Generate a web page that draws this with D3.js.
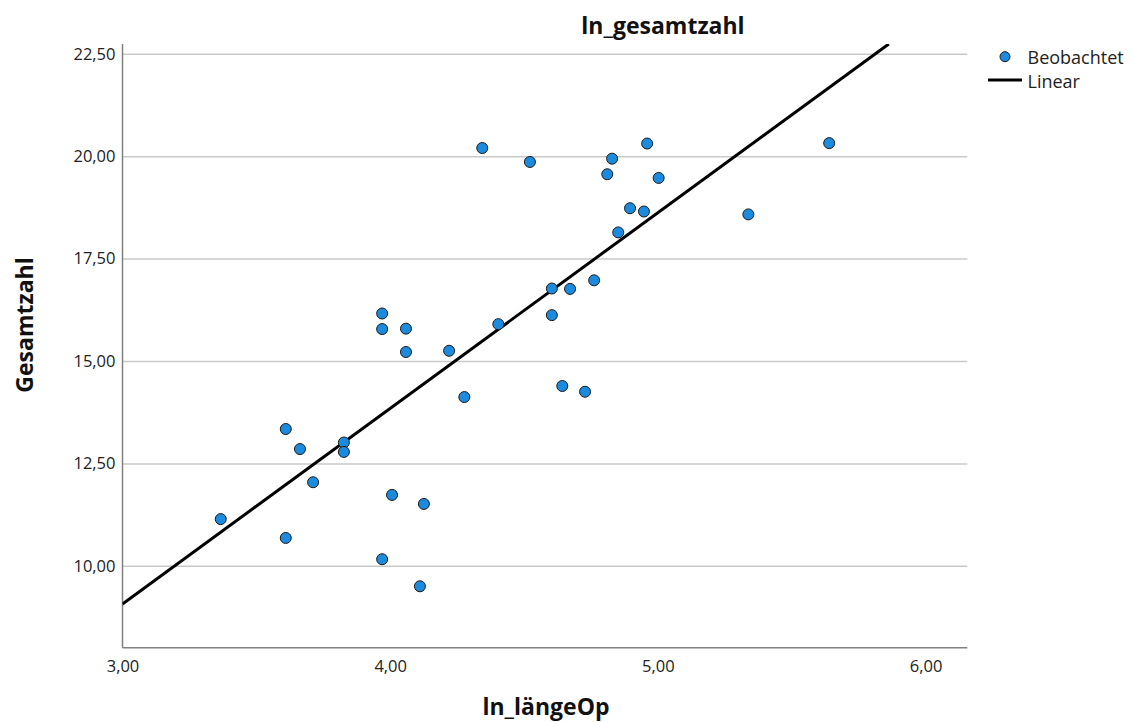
<!DOCTYPE html>
<html>
<head>
<meta charset="utf-8">
<script src="https://cdn.jsdelivr.net/npm/d3@7"></script>
<style>
  html, body { margin: 0; padding: 0; background: #fff; }
  svg { display: block; }
  text { font-family: "Open Sans", "Noto Sans", sans-serif; }
</style>
</head>
<body>
<script>
// Observed values: ln_längeOp (x) and Gesamtzahl (y)
const lnLaengeOp = [
  3.367, 3.610, 3.663, 3.610, 3.712, 3.827, 3.827, 3.970, 3.970, 4.007,
  3.970, 4.059, 4.059, 4.126, 4.111, 4.220, 4.277, 4.344, 4.404, 4.522,
  4.604, 4.604, 4.643, 4.672, 4.728, 4.762, 4.811, 4.829, 4.852, 4.896,
  4.948, 4.960, 5.003, 5.338, 5.640
];
const gesamtzahl = [
  11.14, 13.34, 12.85, 10.68, 12.04, 13.01, 12.78, 16.16, 15.78, 11.73,
  10.16, 15.79, 15.22, 11.51, 9.50, 15.25, 14.12, 20.20, 15.90, 19.86,
  16.77, 16.12, 14.39, 16.76, 14.25, 16.97, 19.56, 19.94, 18.14, 18.73,
  18.65, 20.31, 19.47, 18.58, 20.32
];
// Linear fit: intercept, slope
const linearFit = [-5.26, 4.776];
const xTicks = [3, 4, 5, 6];
const yTicks = [10, 12.5, 15, 17.5, 20, 22.5];
const legendLabels = ["Beobachtet", "Linear"];

const W = 1133, H = 722;
const plot = { left: 122.5, right: 967.3, top: 44, bottom: 647.7 };

const fmt = v => d3.format(".2f")(v).replace(".", ",");

const x = d3.scaleLinear().domain([3, 6.156]).range([plot.left, plot.right]);
const y = d3.scaleLinear().domain([8.0, 22.74]).range([plot.bottom, plot.top]);

const svg = d3.select("body").append("svg").attr("width", W).attr("height", H);

svg.append("defs").append("clipPath").attr("id", "plot-clip")
  .append("rect")
  .attr("x", plot.left).attr("y", plot.top)
  .attr("width", plot.right - plot.left).attr("height", plot.bottom - plot.top);

// Horizontal grid lines
svg.append("g")
  .attr("transform", `translate(${plot.left},0)`)
  .call(d3.axisLeft(y).tickValues(yTicks).tickSize(-(plot.right - plot.left)).tickFormat(""))
  .call(g => g.select(".domain").remove())
  .call(g => g.selectAll(".tick line").attr("stroke", "#c9c9c9").attr("stroke-width", 1.5));

// Y axis
const yAxis = svg.append("g")
  .attr("transform", `translate(${plot.left},0)`)
  .call(d3.axisLeft(y).tickValues(yTicks).tickSize(0).tickPadding(7).tickFormat(fmt));
yAxis.select(".domain").remove();
yAxis.selectAll("text").attr("font-size", 16.5).attr("fill", "#222")
  .attr("font-family", "'Open Sans', sans-serif");

// X axis
const xAxis = svg.append("g")
  .attr("transform", `translate(0,${plot.bottom})`)
  .call(d3.axisBottom(x).tickValues(xTicks).tickSize(0).tickFormat(fmt));
xAxis.select(".domain").remove();
xAxis.selectAll("text").attr("font-size", 16.5).attr("fill", "#222")
  .attr("font-family", "'Open Sans', sans-serif")
  .attr("dy", null).attr("y", 24);

// Axis lines
svg.append("line")
  .attr("x1", plot.left).attr("x2", plot.left)
  .attr("y1", plot.top).attr("y2", plot.bottom)
  .attr("stroke", "#808080").attr("stroke-width", 1.5);
svg.append("line")
  .attr("x1", plot.left).attr("x2", plot.right)
  .attr("y1", plot.bottom).attr("y2", plot.bottom)
  .attr("stroke", "#808080").attr("stroke-width", 1.5);

// Fit line
const [b0, b1] = linearFit;
const xEnd = Math.min(x.domain()[1], (y.domain()[1] - b0) / b1);
svg.append("line")
  .attr("clip-path", "url(#plot-clip)")
  .attr("x1", x(3)).attr("y1", y(b0 + b1 * 3))
  .attr("x2", x(xEnd)).attr("y2", y(b0 + b1 * xEnd))
  .attr("stroke", "#000").attr("stroke-width", 3);

// Observed points
svg.append("g")
  .selectAll("circle")
  .data(d3.zip(lnLaengeOp, gesamtzahl))
  .join("circle")
  .attr("cx", d => x(d[0]))
  .attr("cy", d => y(d[1]))
  .attr("r", 5.5)
  .attr("fill", "#1b8be0")
  .attr("stroke", "#1a1a1a")
  .attr("stroke-width", 1);

// Title
svg.append("text")
  .attr("x", 663).attr("y", 34)
  .attr("text-anchor", "middle")
  .attr("font-size", 23).attr("font-weight", "bold").attr("fill", "#111")
  .text("ln_gesamtzahl");

// Axis titles
svg.append("text")
  .attr("x", 546).attr("y", 715)
  .attr("text-anchor", "middle")
  .attr("font-size", 23).attr("font-weight", "bold").attr("fill", "#111")
  .text("ln_längeOp");
svg.append("text")
  .attr("transform", "translate(33,325) rotate(-90)")
  .attr("text-anchor", "middle")
  .attr("font-size", 23).attr("font-weight", "bold").attr("fill", "#111")
  .text("Gesamtzahl");

// Legend
const legend = svg.append("g");
legend.append("circle")
  .attr("cx", 1005).attr("cy", 56.7).attr("r", 5)
  .attr("fill", "#1b8be0").attr("stroke", "#1a1a1a").attr("stroke-width", 1);
legend.append("line")
  .attr("x1", 988).attr("x2", 1022).attr("y1", 80).attr("y2", 80)
  .attr("stroke", "#000").attr("stroke-width", 3);
legend.selectAll("text.lbl")
  .data(legendLabels)
  .join("text")
  .attr("class", "lbl")
  .attr("x", 1027.5)
  .attr("y", (d, i) => 64 + i * 24)
  .attr("font-size", 18).attr("fill", "#222")
  .text(d => d);
</script>
</body>
</html>
